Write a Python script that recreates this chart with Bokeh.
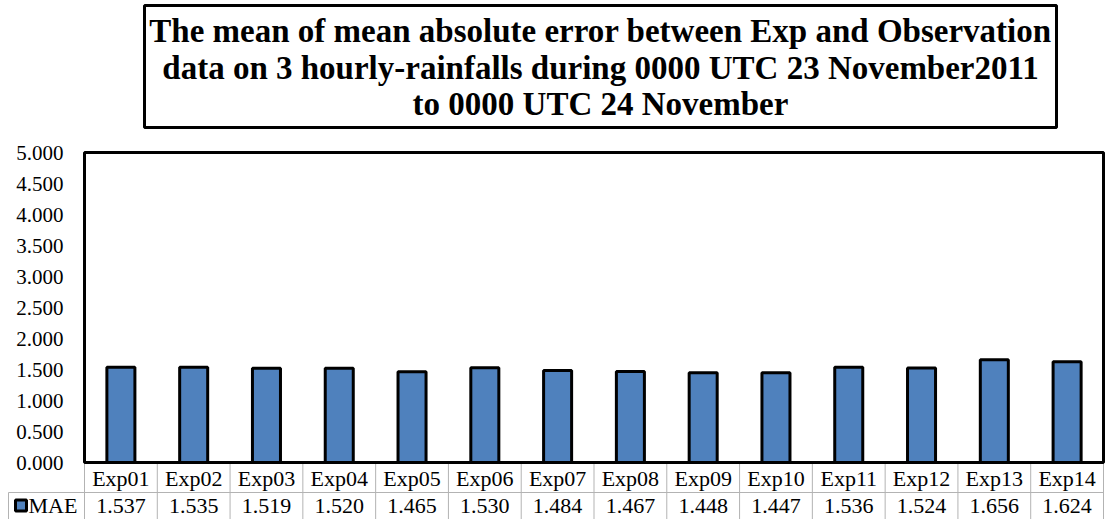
from bokeh.plotting import figure
from bokeh.models import Range1d, FixedTicker, NumeralTickFormatter, ColumnDataSource
from bokeh.core.properties import value
from bokeh.embed import file_html
from bokeh.resources import INLINE

# ---------------- data ----------------
title_lines = [
    "The mean of mean absolute error between Exp and Observation",
    "data on 3 hourly-rainfalls during 0000 UTC 23 November2011",
    "to 0000 UTC 24 November",
]
categories = ["Exp01", "Exp02", "Exp03", "Exp04", "Exp05", "Exp06", "Exp07",
              "Exp08", "Exp09", "Exp10", "Exp11", "Exp12", "Exp13", "Exp14"]
mae = [1.537, 1.535, 1.519, 1.520, 1.465, 1.530, 1.484,
       1.467, 1.448, 1.447, 1.536, 1.524, 1.656, 1.624]
y_ticks = [0.0, 0.5, 1.0, 1.5, 2.0, 2.5, 3.0, 3.5, 4.0, 4.5, 5.0]
series_name = "MAE"

# ---------------- layout (pixels) ----------------
W, H = 1106, 519
FRAME_L = 82             # left edge of plotting frame
X0_PX, X1_PX = 84, 1103  # chart area left / right
Y0_PX, YT_PX = 462, 152  # chart area bottom (0) / top (5)
ROW1_MID, ROW_SPLIT, ROW2_MID = 478, 492, 505
CELL_L = 8
KEY_CX, KEY_HALF, KEY_TEXT_X = 20.5, 5.5, 28
BOX_L, BOX_R, BOX_T, BOX_B = 144, 1056, 5, 127
TITLE_CX = 600
TITLE_MIDS = [30, 67, 103]

n = len(categories)
pxu = (X1_PX - X0_PX) / n
pyu = (Y0_PX - YT_PX) / (y_ticks[-1] - y_ticks[0])


def X(px):
    return (px - X0_PX) / pxu


def Y(py):
    return y_ticks[0] + (Y0_PX - py) / pyu


FONT = value("Liberation Serif")
GRID = "#B3B3B3"
BLUE = "#4F81BD"

p = figure(width=W, height=H, output_backend="svg", toolbar_location=None,
           title=None, x_axis_location=None,
           x_range=Range1d(X(FRAME_L), X(W)), y_range=Range1d(Y(H), Y(0)),
           min_border_left=FRAME_L, min_border_right=0,
           min_border_top=0, min_border_bottom=0)
p.outline_line_color = None
p.grid.visible = False
p.background_fill_color = "white"
p.border_fill_color = "white"

# y axis
p.yaxis.ticker = FixedTicker(ticks=y_ticks, minor_ticks=[])
p.yaxis.formatter = NumeralTickFormatter(format="0.000")
p.yaxis.major_label_text_font = "Liberation Serif"
p.yaxis.major_label_text_font_size = "21px"
p.yaxis.major_label_text_color = "black"
p.yaxis.major_label_standoff = 13
p.yaxis.axis_line_color = None
p.yaxis.major_tick_line_color = None
p.yaxis.minor_tick_line_color = None

src = ColumnDataSource(dict(
    x=[i + 0.5 for i in range(n)],
    top=mae,
    cat=categories,
    label=[f"{v:.3f}" for v in mae],
))

# table grid
p.segment(x0=list(range(n + 1)), y0=[y_ticks[0]] * (n + 1),
          x1=list(range(n + 1)), y1=[Y(H)] * (n + 1),
          line_color=GRID, line_width=1)
p.segment(x0=[X(CELL_L)], y0=[Y(ROW_SPLIT)], x1=[n], y1=[Y(ROW_SPLIT)],
          line_color=GRID, line_width=1, level="overlay")
p.segment(x0=[X(CELL_L)], y0=[Y(ROW_SPLIT)], x1=[X(CELL_L)], y1=[Y(H)],
          line_color=GRID, line_width=1, level="overlay")

# bars
bars = p.vbar(x="x", top="top", bottom=y_ticks[0], width=0.385, source=src,
              fill_color=BLUE, line_color="black", line_width=3)

# chart border
p.quad(left=[0], right=[n], bottom=[y_ticks[0]], top=[y_ticks[-1]],
       fill_color=None, line_color="black", line_width=3)

# table text
p.text(x="x", y=Y(ROW1_MID), text="cat", source=src, text_align="center",
       text_baseline="middle", text_font=FONT, text_font_size="22px",
       text_color="black")
p.text(x="x", y=Y(ROW2_MID), text="label", source=src, text_align="center",
       text_baseline="middle", text_font=FONT, text_font_size="22px",
       text_color="black")

# series key in the table's left cell
kx0, kx1 = X(KEY_CX - KEY_HALF), X(KEY_CX + KEY_HALF)
ky0, ky1 = Y(ROW2_MID - KEY_HALF), Y(ROW2_MID + KEY_HALF)
p.patch(x=[kx0, kx1, kx1, kx0], y=[ky0, ky0, ky1, ky1],
        fill_color=BLUE, line_color="black", line_width=3, level="overlay")
p.text(x=[X(KEY_TEXT_X)], y=[Y(ROW2_MID)], text=[series_name],
       text_align="left", text_baseline="middle", text_font=FONT,
       text_font_size="22px", text_color="black", level="overlay")

# title box
p.quad(left=[X(BOX_L)], right=[X(BOX_R)], top=[Y(BOX_T)], bottom=[Y(BOX_B)],
       fill_color=None, line_color="black", line_width=3)
p.text(x=[X(TITLE_CX)] * len(title_lines), y=[Y(m) for m in TITLE_MIDS],
       text=title_lines, text_align="center", text_baseline="middle",
       text_font=FONT, text_font_style="bold", text_font_size="33px",
       text_color="black")

open("out.html", "w").write(file_html(p, INLINE))
